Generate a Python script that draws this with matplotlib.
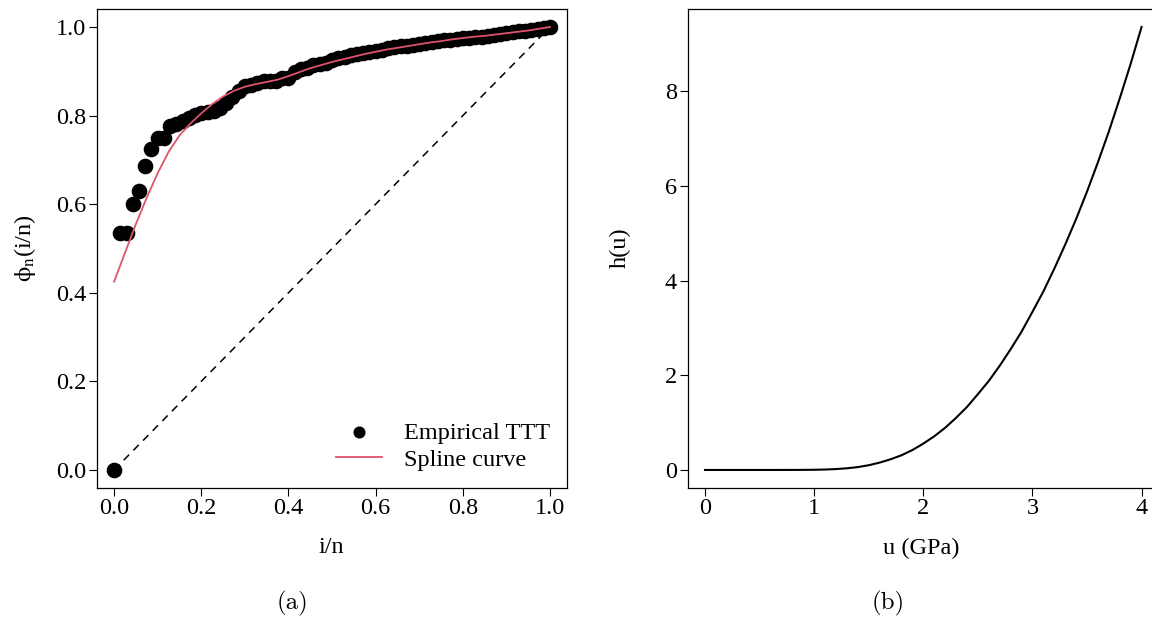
import matplotlib
matplotlib.use("Agg")
import matplotlib.pyplot as plt
import numpy as np

plt.rcParams['font.family'] = ['Liberation Serif', 'STIXGeneral', 'DejaVu Serif']
plt.rcParams['mathtext.fontset'] = 'stix'

# empirical TTT points, i = 0..70 (n = 70)
n = 70
ttt_y = [0.0, 0.535, 0.535, 0.600, 0.630, 0.687, 0.725, 0.749, 0.750, 0.777,
         0.782, 0.788, 0.795, 0.801, 0.805, 0.807, 0.811, 0.817, 0.829, 0.842,
         0.855, 0.866, 0.869, 0.874, 0.877, 0.879, 0.879, 0.885, 0.885, 0.899,
         0.904, 0.908, 0.915, 0.917, 0.918, 0.926, 0.929, 0.933, 0.936, 0.938,
         0.941, 0.944, 0.946, 0.948, 0.953, 0.955, 0.956, 0.958, 0.960, 0.962,
         0.964, 0.966, 0.968, 0.970, 0.971, 0.973, 0.975, 0.976, 0.977, 0.978,
         0.980, 0.982, 0.984, 0.986, 0.988, 0.990, 0.992, 0.994, 0.996, 0.998,
         1.0]

# spline curve, read at steps of 0.025
spline_x = [0.0, 0.025, 0.05, 0.075, 0.1, 0.125, 0.15, 0.175, 0.2, 0.225,
            0.25, 0.275, 0.3, 0.325, 0.35, 0.375, 0.4, 0.425, 0.45, 0.475,
            0.5, 0.525, 0.55, 0.575, 0.6, 0.625, 0.65, 0.675, 0.7, 0.725,
            0.75, 0.775, 0.8, 0.825, 0.85, 0.875, 0.9, 0.925, 0.95, 0.975, 1.0]
spline_y = [0.425, 0.490, 0.555, 0.615, 0.670, 0.718, 0.755, 0.782, 0.805, 0.826,
            0.843, 0.856, 0.865, 0.871, 0.876, 0.881, 0.889, 0.898, 0.907, 0.914,
            0.921, 0.927, 0.933, 0.939, 0.944, 0.949, 0.953, 0.957, 0.961, 0.965,
            0.968, 0.972, 0.975, 0.978, 0.980, 0.983, 0.986, 0.989, 0.992, 0.996, 1.0]

# hazard h(u), u in GPa, steps of 0.1
u_vals = [0.0, 0.1, 0.2, 0.3, 0.4, 0.5, 0.6, 0.7, 0.8, 0.9,
          1.0, 1.1, 1.2, 1.3, 1.4, 1.5, 1.6, 1.7, 1.8, 1.9,
          2.0, 2.1, 2.2, 2.3, 2.4, 2.5, 2.6, 2.7, 2.8, 2.9,
          3.0, 3.1, 3.2, 3.3, 3.4, 3.5, 3.6, 3.7, 3.8, 3.9, 4.0]
h_vals = [0.0, 0.0, 0.0, 0.0, 0.0, 0.0, 0.0, 0.0002, 0.0005, 0.0015,
          0.004, 0.009, 0.019, 0.035, 0.060, 0.100, 0.155, 0.225, 0.31, 0.42,
          0.556, 0.71, 0.89, 1.10, 1.33, 1.60, 1.88, 2.20, 2.55, 2.92,
          3.34, 3.77, 4.25, 4.76, 5.30, 5.88, 6.50, 7.15, 7.85, 8.58, 9.36]

fs = 17.5
red = '#DF536B'

fig = plt.figure(figsize=(11.52, 6.21), dpi=100)

def style(ax):
    ax.tick_params(direction='out', length=5.5, width=0.8, labelsize=fs, pad=2)
    for s in ax.spines.values():
        s.set_linewidth(0.9)

# (a) TTT plot
ax1 = fig.add_axes([0.0839, 0.2147, 0.4087, 0.7704])
ttt_x = np.arange(n + 1) / n
ax1.plot([0, 1], [0, 1], color='black', linestyle=(0, (5, 4)), linewidth=1.1)
ax1.scatter(ttt_x, ttt_y, s=105, color='black', zorder=3, label='Empirical TTT')
ax1.plot(spline_x, spline_y, color=red, linewidth=1.3, zorder=4, label='Spline curve')
ax1.set_xlim(-0.04, 1.04)
ax1.set_ylim(-0.04, 1.04)
ax1.set_xticks([0.0, 0.2, 0.4, 0.6, 0.8, 1.0])
ax1.set_yticks([0.0, 0.2, 0.4, 0.6, 0.8, 1.0])
ax1.set_xticklabels(['0.0', '0.2', '0.4', '0.6', '0.8', '1.0'])
ax1.set_yticklabels(['0.0', '0.2', '0.4', '0.6', '0.8', '1.0'])
style(ax1)
ax1.legend(loc='lower right', frameon=False, fontsize=fs, handlelength=1.9,
           handletextpad=0.9, borderaxespad=0.3, labelspacing=0.2, markerscale=0.75)

# (b) hazard function
ax2 = fig.add_axes([0.5968, 0.2147, 0.4093, 0.7704])
ax2.plot(u_vals, h_vals, color='black', linewidth=1.5)
ax2.set_xlim(-0.16, 4.16)
ax2.set_ylim(-0.3744, 9.7344)
ax2.set_xticks([0, 1, 2, 3, 4])
ax2.set_yticks([0, 2, 4, 6, 8])
style(ax2)

fig.text(0.288, 0.1176, 'i/n', fontsize=fs, ha='center', va='center')
fig.text(0.0217, 0.6006, r'$\mathrm{\phi_n}$(i/n)', fontsize=fs, ha='center',
         va='center', rotation=90)
fig.text(0.7995, 0.1176, 'u (GPa)', fontsize=fs, ha='center', va='center')
fig.text(0.538, 0.6006, 'h(u)', fontsize=fs, ha='center', va='center', rotation=90)
fig.text(0.2543, 0.029, '(a)', fontsize=18, family='cmr10', ha='center', va='center')
fig.text(0.771, 0.029, '(b)', fontsize=18, family='cmr10', ha='center', va='center')

fig.savefig('out.png', dpi=100)
